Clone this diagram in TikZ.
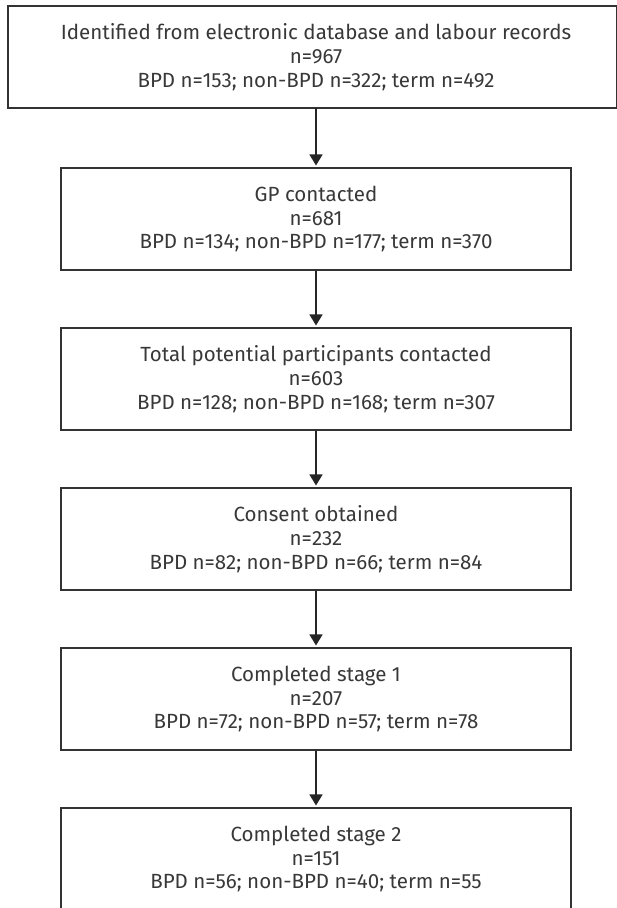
\documentclass[tikz,border=0pt]{standalone}
\usepackage{fontspec}
\setmainfont{Fira Sans}
\usetikzlibrary{arrows.meta}

\tikzset{
  txt/.style={align=center, inner sep=0pt, minimum height=76.5pt, text=black!78,
    font=\fontsize{15.4pt}{17.85pt}\selectfont},
  stagebox/.style={txt, draw=black!80, line width=0.8pt, minimum width=382.5pt},
  flow/.style={draw=black!85, line width=0.8pt, shorten >=1.5pt,
    -{Triangle[width=9.75pt,length=8.25pt]}}
}

\begin{document}
\begin{tikzpicture}[x=0.75pt,y=0.75pt,yscale=-1,xscale=1]
%set diagram left start at 0, and has height of 908
\useasboundingbox (0,0) rectangle (617,908);
\clip (0,0) rectangle (617,908);

%Text: first box
\node[txt] (ident) at (316,57) {Identified from electronic database and labour records\\ n=967\\ BPD n=153; non-BPD n=322; term n=492};
%Shape: Rectangle round first box
\draw [draw=black!80, line width=0.8pt] (8,6) rectangle (616.3,108);

%Shape: Rectangle
\node[stagebox] (gp) at (316,219) {GP contacted\\ n=681\\ BPD n=134; non-BPD n=177; term n=370};
%Shape: Rectangle
\node[stagebox] (contact) at (316,379) {Total potential participants contacted\\ n=603\\ BPD n=128; non-BPD n=168; term n=307};
%Shape: Rectangle
\node[stagebox] (consent) at (316,539) {Consent obtained\\ n=232\\ BPD n=82; non-BPD n=66; term n=84};
%Shape: Rectangle
\node[stagebox] (stageone) at (316,699) {Completed stage 1\\ n=207\\ BPD n=72; non-BPD n=57; term n=78};
%Shape: Rectangle
\node[stagebox] (stagetwo) at (316,859) {Completed stage 2\\ n=151\\ BPD n=56; non-BPD n=40; term n=55};

%Straight Lines
\draw [flow] (ident.south) -- (gp.north) ;
%Straight Lines
\draw [flow] (gp.south) -- (contact.north) ;
%Straight Lines
\draw [flow] (contact.south) -- (consent.north) ;
%Straight Lines
\draw [flow] (consent.south) -- (stageone.north) ;
%Straight Lines
\draw [flow] (stageone.south) -- (stagetwo.north) ;

\end{tikzpicture}
\end{document}
